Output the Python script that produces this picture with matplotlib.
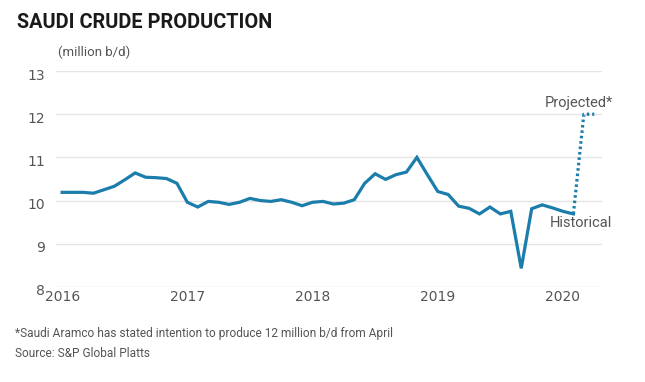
import matplotlib
matplotlib.use('Agg')
import matplotlib.pyplot as plt
from matplotlib.transforms import ScaledTranslation
import numpy as np

# Monthly Saudi crude output, Jan 2016 .. Feb 2020 (million b/d)
historical = [
    10.19, 10.19, 10.19, 10.17, 10.25, 10.33, 10.48, 10.64, 10.54, 10.53, 10.51, 10.40,
    9.96, 9.85, 9.98, 9.96, 9.91, 9.96, 10.05, 10.00, 9.98, 10.02, 9.96, 9.88,
    9.96, 9.98, 9.92, 9.94, 10.02, 10.40, 10.62, 10.49, 10.60, 10.66, 11.00, 10.60,
    10.21, 10.14, 9.87, 9.82, 9.69, 9.85, 9.69, 9.75, 8.43, 9.81, 9.90, 9.83,
    9.75, 9.69,
]
# Feb 2020 -> Mar 2020 -> Apr 2020
projected = [9.69, 12.0, 12.0]

start_year = 2016
year_ticks = [2016, 2017, 2018, 2019, 2020]
y_ticks = [8, 9, 10, 11, 12, 13]

line_color = '#1b7dab'
text_color = '#555555'
ui = 'Roboto'

hist_x = start_year + np.arange(len(historical)) / 12
proj_x = start_year + (len(historical) - 1 + np.arange(len(projected))) / 12

fig = plt.figure(figsize=(6.45, 3.82), dpi=100)
ax = fig.add_axes([0.087, 0.249, 0.846, 0.565])

ax.plot(hist_x, historical, color=line_color, linewidth=2.3, solid_joinstyle='miter')
ax.plot(proj_x, projected, color=line_color, linewidth=2.3, linestyle=(0, (0.8, 0.9)))

ax.set_xlim(2015.952, 2020.31)
ax.set_ylim(8, 13)
ax.set_xticks(year_ticks)
ax.set_yticks(y_ticks)
ax.grid(axis='y', color='#e4e4e4', linewidth=1)
ax.set_axisbelow(True)
for s in ax.spines.values():
    s.set_visible(False)
ax.tick_params(length=0, labelsize=10, labelcolor=text_color)
ax.tick_params(axis='y', pad=8)
ax.tick_params(axis='x', pad=2)
# tick numbers sit a little below their gridlines in the original
shift = ScaledTranslation(0, -0.03, fig.dpi_scale_trans)
for lab in ax.get_yticklabels():
    lab.set_transform(lab.get_transform() + shift)

ax.text(2020.40, 12.26, 'Projected*', ha='right', va='center', fontsize=10.5,
        color=text_color, family=ui, clip_on=False)
ax.text(2020.39, 9.47, 'Historical', ha='right', va='center', fontsize=10.5,
        color=text_color, family=ui, clip_on=False)

fig.text(0.027, 0.94, 'SAUDI CRUDE PRODUCTION', fontsize=14.3, fontweight='bold',
         color='#1a1a1a', ha='left', va='center', family=ui)
fig.text(0.09, 0.862, '(million b/d)', fontsize=9.5, color=text_color, ha='left',
         va='center', family=ui)
fig.text(0.023, 0.128, '*Saudi Aramco has stated intention to produce 12 million b/d from April',
         fontsize=8.6, color=text_color, ha='left', va='center', family=ui)
fig.text(0.023, 0.075, 'Source: S&P Global Platts', fontsize=8.6, color=text_color,
         ha='left', va='center', family=ui)

fig.savefig('out.png', dpi=100)
